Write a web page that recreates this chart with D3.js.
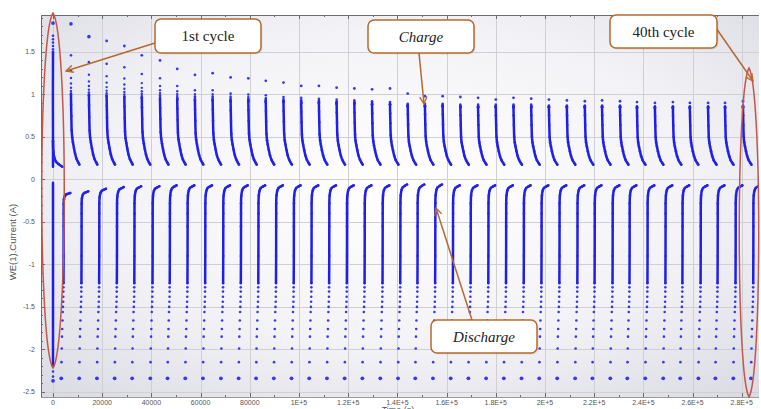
<!DOCTYPE html>
<html>
<head>
<meta charset="utf-8">
<script src="https://cdn.jsdelivr.net/npm/d3@7"></script>
<style>
  body { margin: 0; background: #fff; }
  svg { display: block; }
</style>
</head>
<body>
<div id="chart"></div>
<script>
////////////////////
// DATA
////////////////////

// start time (s) of each charge step, cycles 1..40
const cycleStart = [0, 7300, 14600, 21800, 29000, 36100, 43500, 50500, 57700, 64900,
  72200, 79400, 86500, 93700, 100900, 108100, 115300, 122500, 129700, 137000,
  144200, 151200, 158400, 165600, 172800, 180000, 187200, 194400, 201600, 208900,
  216200, 223200, 230500, 237400, 244700, 252000, 258900, 266300, 273200, 280500];

// first (isolated) point of every charge, A
const chargePeak = [1.84, 1.83, 1.68, 1.63, 1.57, 1.46, 1.40, 1.30, 1.23, 1.25,
  1.20, 1.19, 1.16, 1.14, 1.10, 1.10, 1.08, 1.07, 1.06, 1.07,
  1.01, 0.98, 0.98, 0.97, 0.96, 0.94, 0.96, 0.95, 0.94, 0.93,
  0.92, 0.93, 0.92, 0.91, 0.90, 0.91, 0.90, 0.90, 0.90, 0.92];

// second point of every charge, A
const chargeSecond = [1.69, 1.46, 1.38, 1.36, 1.32, 1.24, 1.19, 1.10, 1.05, 1.05,
  1.01, 1.00, 0.99, 0.97, 0.96, 0.95, 0.94, 0.93, 0.92, 0.91,
  0.89, 0.89, 0.89, 0.88, 0.88, 0.88, 0.88, 0.88, 0.87, 0.87,
  0.87, 0.87, 0.87, 0.86, 0.86, 0.86, 0.86, 0.86, 0.86, 0.87];

// current where the dense part of the charge begins, A
const chargeKnee = [1.50, 1.00, 0.99, 0.98, 0.97, 0.96, 0.95, 0.94, 0.93, 0.93,
  0.92, 0.92, 0.91, 0.91, 0.90, 0.90, 0.89, 0.89, 0.88, 0.88,
  0.86, 0.86, 0.86, 0.85, 0.85, 0.85, 0.85, 0.85, 0.85, 0.85,
  0.85, 0.85, 0.85, 0.84, 0.84, 0.84, 0.84, 0.84, 0.84, 0.85];

// sparse points between second point and knee (fraction of the way down)
const chargeStepFrac = [0.38, 0.58, 0.72, 0.83, 0.91, 0.97];

// dense charge curve of a middle cycle: [seconds after start, current A]
const chargeCurve = [[0, 0.88], [60, 0.78], [150, 0.66], [285, 0.52], [500, 0.45],
  [800, 0.40], [1220, 0.34], [1700, 0.28], [2300, 0.23], [2970, 0.195], [3400, 0.175]];

// first cycle charge
const firstChargeDots = [1.84, 1.69, 1.65, 1.61, 1.57, 1.53];
const firstChargeCurve = [[0, 1.50], [0, 0.45], [150, 0.33], [500, 0.26], [1200, 0.21],
  [2300, 0.18], [3800, 0.15]];
const firstChargeStem = [[0, 0.45], [0, 0.15]];

// top (last) point of each discharge; discharge i ends at the start of the next charge
const dischargeTop = [-0.16, -0.14, -0.11, -0.09, -0.08, -0.08, -0.07, -0.07, -0.07, -0.07,
  -0.07, -0.07, -0.07, -0.07, -0.07, -0.07, -0.07, -0.07, -0.07, -0.06,
  -0.06, -0.06, -0.07, -0.07, -0.07, -0.07, -0.07, -0.07, -0.07, -0.07,
  -0.07, -0.07, -0.07, -0.07, -0.07, -0.07, -0.07, -0.07, -0.07, -0.07];
const dischargeEnd = cycleStart.slice(1).concat([287700]);

// sparse lower part of a discharge: [seconds before end, current A]
const dischargeSparse = [[-3940, -2.34], [-3850, -2.15], [-3750, -1.99], [-3650, -1.85],
  [-3550, -1.76], [-3450, -1.66], [-3350, -1.56], [-3250, -1.50], [-3180, -1.44],
  [-3120, -1.38], [-3090, -1.32], [-3070, -1.27]];
// dense upper part of a discharge
const dischargeDense = [[-3050, -1.22], [-3000, -0.90], [-2980, -0.55], [-2970, -0.40],
  [-2960, -0.28], [-2850, -0.19], [-2500, -0.13], [-2000, -0.10], [-1200, -0.085], [-300, -0.07]];

// first cycle discharge
const firstDischargeCurve = [[0, -0.04], [0, -2.20]];
const firstDischargeDots = [-2.26, -2.32, -2.37];

// axes
const xTicks = [0, 20000, 40000, 60000, 80000, 100000, 120000, 140000, 160000, 180000,
  200000, 220000, 240000, 260000, 280000];
const xTickLabels = ["0", "20000", "40000", "60000", "80000", "1E+5", "1.2E+5", "1.4E+5",
  "1.6E+5", "1.8E+5", "2E+5", "2.2E+5", "2.4E+5", "2.6E+5", "2.8E+5"];
const yTicks = [1.5, 1, 0.5, 0, -0.5, -1, -1.5, -2, -2.5];
const yTickLabels = ["1.5", "1", "0.5", "0", "-0.5", "-1", "-1.5", "-2", "-2.5"];

////////////////////
// SVG
////////////////////
let w = 761;
let h = 409;
let pLeft = 41, pRight = 759, pTop = 15, pBottom = 397;

let svg = d3.select("#chart").append("svg")
  .attr("width", w)
  .attr("height", h);

let x = d3.scaleLinear().domain([-4880, 287000]).range([pLeft, pRight]);
let y = d3.scaleLinear().domain([-2.56, 1.935]).range([pBottom, pTop]);

let defs = svg.append("defs");
let grad = defs.append("radialGradient").attr("id", "bg")
  .attr("cx", "50%").attr("cy", "45%").attr("r", "75%");
grad.append("stop").attr("offset", "0%").attr("stop-color", "#ffffff");
grad.append("stop").attr("offset", "55%").attr("stop-color", "#f3f3f7");
grad.append("stop").attr("offset", "100%").attr("stop-color", "#d9d9e2");

defs.append("clipPath").attr("id", "plotclip")
  .append("rect").attr("x", pLeft).attr("y", pTop)
  .attr("width", pRight - pLeft).attr("height", pBottom - pTop);

defs.append("marker").attr("id", "arrow")
  .attr("viewBox", "0 0 10 10").attr("refX", 9).attr("refY", 5)
  .attr("markerWidth", 9).attr("markerHeight", 9)
  .attr("markerUnits", "userSpaceOnUse")
  .attr("orient", "auto")
  .append("path").attr("d", "M1,1 L9,5 L1,9")
  .attr("fill", "none").attr("stroke", "#b5692e").attr("stroke-width", 1.5);

// background
svg.append("rect")
  .attr("x", pLeft).attr("y", pTop)
  .attr("width", pRight - pLeft).attr("height", pBottom - pTop)
  .attr("fill", "url(#bg)");

// grid
let grid = svg.append("g").attr("stroke", "#cfcfd4").attr("stroke-width", 1);
grid.selectAll(".gx").data(xTicks).enter().append("line")
  .attr("x1", d => Math.round(x(d)) + 0.5).attr("x2", d => Math.round(x(d)) + 0.5)
  .attr("y1", pTop).attr("y2", pBottom);
grid.selectAll(".gy").data(yTicks).enter().append("line")
  .attr("x1", pLeft).attr("x2", pRight)
  .attr("y1", d => Math.round(y(d)) + 0.5).attr("y2", d => Math.round(y(d)) + 0.5);

////////////////////
// build the points
////////////////////
let dots = [];     // {t, v, r}
let lines = [];    // arrays of [t, v]

// cycle 1 charge
firstChargeDots.forEach((v, i) => dots.push({ t: 0, v: v, r: i == 0 ? 1.9 : 1.3 }));
lines.push(firstChargeCurve);
lines.push(firstChargeStem);
firstChargeCurve.forEach(p => dots.push({ t: p[0], v: p[1], r: 1.3 }));

// cycle 1 discharge
lines.push(firstDischargeCurve);
firstDischargeDots.forEach((v, i) => dots.push({ t: 0, v: v, r: i == 2 ? 1.9 : 1.3 }));

// other charges
cycleStart.forEach((t0, i) => {
  if (i == 0) return;
  let peak = chargePeak[i], second = chargeSecond[i], knee = chargeKnee[i];
  dots.push({ t: t0, v: peak, r: i < 3 ? 1.8 : 1.4 });
  dots.push({ t: t0, v: second, r: 1.3 });
  chargeStepFrac.forEach(f => dots.push({ t: t0, v: second - (second - knee) * f, r: 1.2 }));
  let k = (knee - 0.17) / (0.88 - 0.17);
  let curve = chargeCurve.map(p => [t0 + p[0], 0.17 + (p[1] - 0.17) * k]);
  lines.push(curve);
  curve.forEach(p => dots.push({ t: p[0], v: p[1], r: 1.3 }));
});

// discharges
dischargeEnd.forEach((tEnd, i) => {
  let topV = dischargeTop[i];
  dischargeSparse.forEach((p, j) => dots.push({ t: tEnd + p[0], v: p[1], r: j == 0 ? 1.9 : 1.3 }));
  let curve = dischargeDense.map(p => {
    let v = p[1];
    if (v > -0.3) v = v + (topV + 0.07) * (v + 0.3) / 0.23;
    return [tEnd + p[0], v];
  });
  lines.push(curve);
  curve.forEach(p => dots.push({ t: p[0], v: p[1], r: 1.3 }));
});

////////////////////
// draw the data
////////////////////
let plot = svg.append("g").attr("clip-path", "url(#plotclip)");

let line = d3.line()
  .x(d => x(d[0]))
  .y(d => y(d[1]))
  .curve(d3.curveCatmullRom);

plot.selectAll(".dense").data(lines).enter().append("path")
  .attr("d", line)
  .attr("fill", "none")
  .attr("stroke", "#1e1ee8")
  .attr("stroke-width", 2.5)
  .attr("stroke-linecap", "round");

plot.selectAll(".dot").data(dots).enter().append("circle")
  .attr("cx", d => x(d.t))
  .attr("cy", d => y(d.v))
  .attr("r", d => d.r)
  .attr("fill", "#2424ec")
  .attr("fill-opacity", 0.9);

////////////////////
// axes
////////////////////
let axisColor = "#6b6b6b";

// frame: left, top, bottom
svg.append("line").attr("x1", pLeft + 0.5).attr("x2", pLeft + 0.5).attr("y1", pTop).attr("y2", pBottom)
  .attr("stroke", axisColor);
svg.append("line").attr("x1", pLeft).attr("x2", pRight).attr("y1", pTop + 0.5).attr("y2", pTop + 0.5)
  .attr("stroke", axisColor);
svg.append("line").attr("x1", pLeft).attr("x2", pRight).attr("y1", pBottom + 0.5).attr("y2", pBottom + 0.5)
  .attr("stroke", "#9a9a9a");

let ticks = svg.append("g").attr("stroke", axisColor).attr("stroke-width", 1);
let xMinor = d3.range(0, 290000, 10000);
ticks.selectAll(".xb").data(xMinor).enter().append("line")
  .attr("x1", d => Math.round(x(d)) + 0.5).attr("x2", d => Math.round(x(d)) + 0.5)
  .attr("y1", pBottom).attr("y2", d => pBottom - (d % 20000 == 0 ? 4 : 2));
ticks.selectAll(".xt").data(xMinor).enter().append("line")
  .attr("x1", d => Math.round(x(d)) + 0.5).attr("x2", d => Math.round(x(d)) + 0.5)
  .attr("y1", pTop).attr("y2", d => pTop + (d % 20000 == 0 ? 4 : 2));
let yMinor = d3.range(-25, 20, 1).map(d => d / 10);
ticks.selectAll(".yl").data(yMinor).enter().append("line")
  .attr("x1", pLeft).attr("x2", d => pLeft + (Math.abs(d * 2 - Math.round(d * 2)) < 1e-6 ? 4 : 2))
  .attr("y1", d => Math.round(y(d)) + 0.5).attr("y2", d => Math.round(y(d)) + 0.5);

// tick labels
svg.append("g").selectAll("text").data(xTicks).enter().append("text")
  .attr("x", d => x(d))
  .attr("y", 405)
  .attr("text-anchor", "middle")
  .attr("font-family", "Liberation Sans, Arial, sans-serif")
  .attr("font-size", 7)
  .attr("fill", "#555")
  .text((d, i) => xTickLabels[i]);

svg.append("g").selectAll("text").data(yTicks).enter().append("text")
  .attr("x", 35)
  .attr("y", d => y(d) + 2.5)
  .attr("text-anchor", "end")
  .attr("font-family", "Liberation Sans, Arial, sans-serif")
  .attr("font-size", 7)
  .attr("fill", "#555")
  .text((d, i) => yTickLabels[i]);

// axis titles
svg.append("text")
  .attr("transform", "translate(16,242) rotate(-90)")
  .attr("text-anchor", "middle")
  .attr("font-family", "Liberation Sans, Arial, sans-serif")
  .attr("font-size", 9.5)
  .attr("fill", "#555")
  .text("WE(1).Current (A)");

svg.append("text")
  .attr("x", 398).attr("y", 413)
  .attr("text-anchor", "middle")
  .attr("font-family", "Liberation Sans, Arial, sans-serif")
  .attr("font-size", 9)
  .attr("fill", "#555")
  .text("Time (s)");

////////////////////
// annotations
////////////////////
let red = "#c4574a";
function pod(cx, y0, y1, k) {
  return `M${cx},${y0} C${cx + k},${y0 + 22} ${cx + k},${y1 - 22} ${cx},${y1} ` +
    `C${cx - k},${y1 - 22} ${cx - k},${y0 + 22} ${cx},${y0} Z`;
}
svg.append("path").attr("d", pod(53, 13, 368, 15))
  .attr("fill", "none").attr("stroke", red).attr("stroke-width", 1.5);
svg.append("path").attr("d", pod(749, 68, 397, 13))
  .attr("fill", "none").attr("stroke", red).attr("stroke-width", 1.5);

let callouts = [
  { text: "1st cycle", x: 155, y: 19, w: 106, h: 34, italic: false, from: [155, 43], to: [66, 71] },
  { text: "Charge", x: 368, y: 20, w: 106, h: 33, italic: true, from: [419, 53], to: [424, 104] },
  { text: "40th cycle", x: 610, y: 15, w: 107, h: 33, italic: false, from: [716, 28], to: [753, 81] },
  { text: "Discharge", x: 431, y: 320, w: 106, h: 33, italic: true, from: [472, 320], to: [436, 208] }
];

let ann = svg.append("g");
callouts.forEach(c => {
  ann.append("line")
    .attr("x1", c.from[0]).attr("y1", c.from[1])
    .attr("x2", c.to[0]).attr("y2", c.to[1])
    .attr("stroke", "#b5692e").attr("stroke-width", 1.5)
    .attr("marker-end", "url(#arrow)");
});
callouts.forEach(c => {
  ann.append("rect")
    .attr("x", c.x + 1.5).attr("y", c.y + 1.5)
    .attr("width", c.w).attr("height", c.h)
    .attr("rx", 6)
    .attr("fill", "#000").attr("fill-opacity", 0.08);
  ann.append("rect")
    .attr("x", c.x).attr("y", c.y)
    .attr("width", c.w).attr("height", c.h)
    .attr("rx", 6)
    .attr("fill", "#fff")
    .attr("stroke", "#b5692e").attr("stroke-width", 1.5);
  ann.append("text")
    .attr("x", c.x + c.w / 2).attr("y", c.y + c.h / 2 + 5)
    .attr("text-anchor", "middle")
    .attr("font-family", "Liberation Serif, Times New Roman, serif")
    .attr("font-size", 15)
    .attr("font-style", c.italic ? "italic" : "normal")
    .attr("fill", "#222")
    .text(c.text);
});
</script>
</body>
</html>
